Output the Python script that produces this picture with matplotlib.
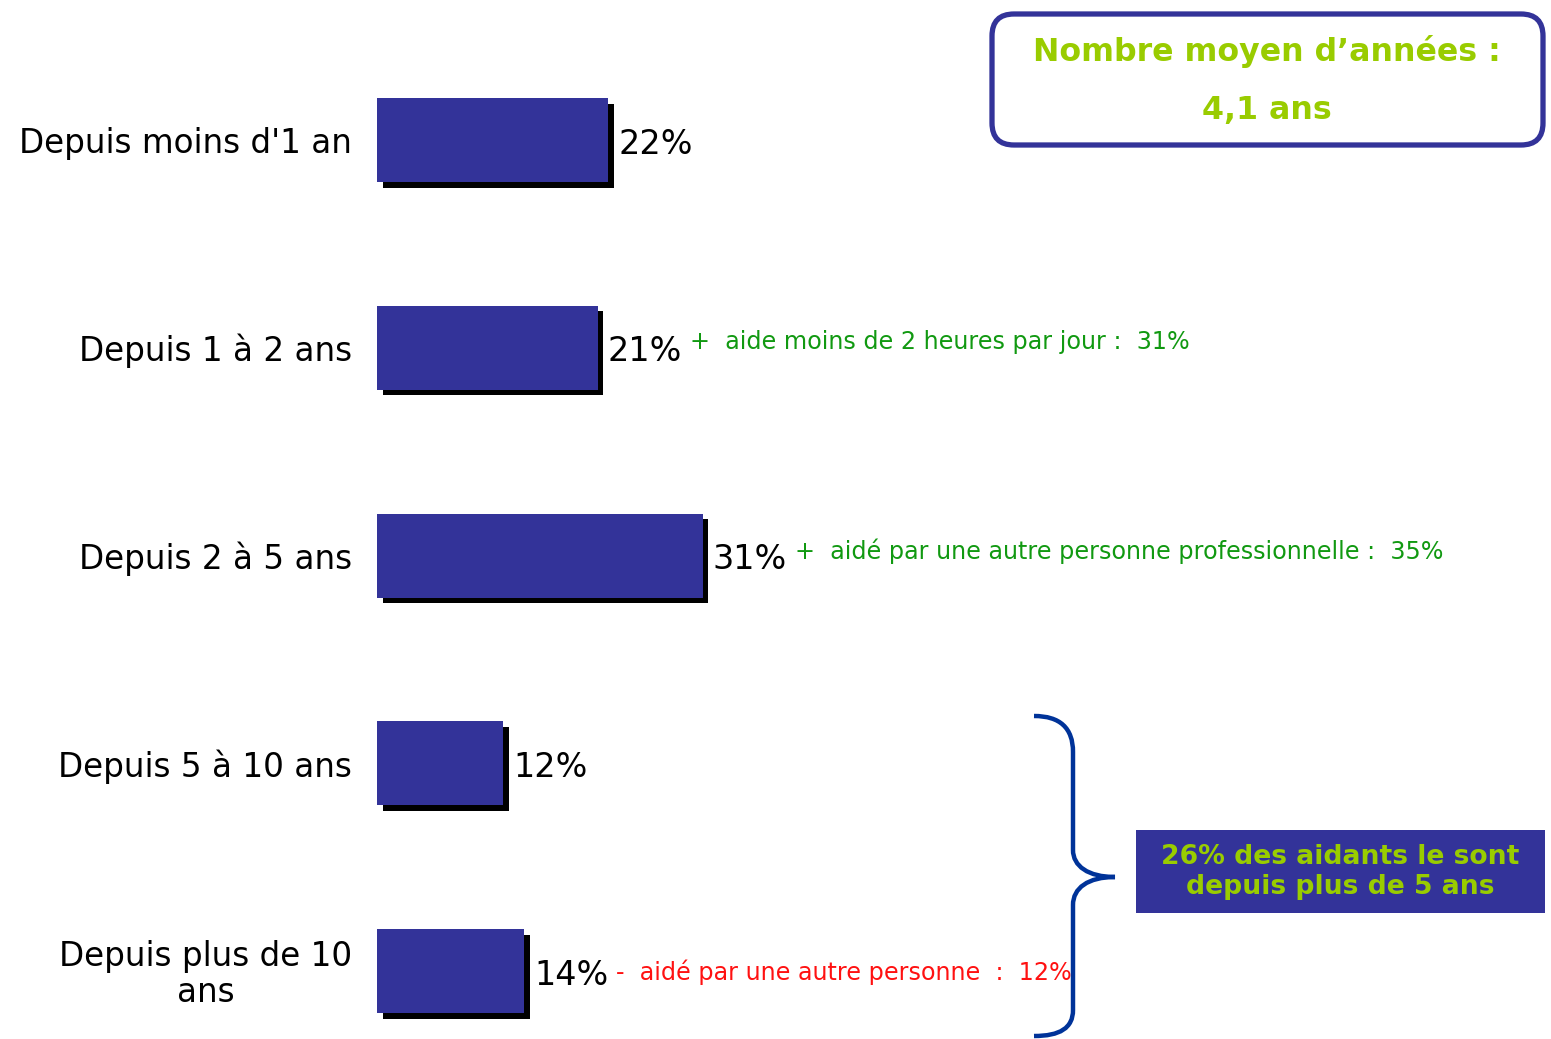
import matplotlib
matplotlib.use('Agg')
import matplotlib.pyplot as plt
from matplotlib.patches import FancyBboxPatch, Rectangle, PathPatch
from matplotlib.path import Path
import matplotlib.patheffects as pe

categories = ["Depuis moins d'1 an", "Depuis 1 à 2 ans", "Depuis 2 à 5 ans",
              "Depuis 5 à 10 ans", "Depuis plus de 10\nans"]
values = [22, 21, 31, 12, 14]
value_labels = ["22%", "21%", "31%", "12%", "14%"]
notes = ["", "+  aide moins de 2 heures par jour :  31%",
         "+  aidé par une autre personne professionnelle :  35%", "",
         "-  aidé par une autre personne  :  12%"]
note_colors = ["#119911", "#119911", "#119911", "#119911", "#FF1111"]
box_title = "Nombre moyen d’années :"
box_value = "4,1 ans"
summary = "26% des aidants le sont\ndepuis plus de 5 ans"

BAR = '#333399'
GREEN = '#99CC00'
W, H = 1551, 1039
fig = plt.figure(figsize=(W / 100, H / 100), dpi=100)
fig.patch.set_facecolor('white')

x0 = 377
px_per = 10.5
step = 207.75
yc0 = 140
ax = fig.add_axes([x0 / W, 0, (W - x0) / W, 1])
ax.set_xlim(0, (W - x0) / px_per)
ax.set_ylim((H - yc0) / step, -yc0 / step)
ax.axis('off')

ypos = list(range(len(values)))
bars = ax.barh(ypos, values, height=84 / step, color=BAR, zorder=3)
for b in bars:
    b.set_path_effects([pe.SimplePatchShadow(offset=(4, -4), shadow_rgbFace='black', alpha=1),
                        pe.Normal()])

note_dy = [0, 4, 3, -1, -1]
for i, (v, lab, cat, note, nc) in enumerate(zip(values, value_labels, categories, notes, note_colors)):
    ax.annotate(lab, xy=(v, i), xytext=(7.5, -3), textcoords='offset points',
                ha='left', va='center', fontsize=24, color='black')
    ax.annotate(cat, xy=(0, i), xytext=(-18, -2.5), textcoords='offset points',
                ha='right', va='center', fontsize=23.5, color='black',
                multialignment='center', linespacing=1.15)
    if note:
        ax.annotate(note, xy=(v, i), xytext=(66.5, note_dy[i]), textcoords='offset points',
                    ha='left', va='center', fontsize=17.2, color=nc)

# overlay in pixel coordinates for decorations
ov = fig.add_axes([0, 0, 1, 1])
ov.set_xlim(0, W)
ov.set_ylim(H, 0)
ov.axis('off')
ov.patch.set_alpha(0)

box = FancyBboxPatch((992, 14), 551, 131, boxstyle='round,pad=0,rounding_size=22',
                     facecolor='white', edgecolor=BAR, linewidth=3.8)
ov.add_patch(box)
ov.text(1267, 52, box_title, ha='center', va='center', fontsize=22.8,
        fontweight='bold', color=GREEN, family='DejaVu Sans')
ov.text(1267, 110, box_value, ha='center', va='center', fontsize=22.8,
        fontweight='bold', color=GREEN, family='DejaVu Sans')

verts = [(1034, 716), (1060, 716), (1073, 728), (1073, 752),
         (1073, 850),
         (1073, 866), (1088, 877), (1115, 877),
         (1088, 877), (1073, 888), (1073, 905),
         (1073, 1010),
         (1073, 1028), (1060, 1036), (1034, 1036)]
codes = [Path.MOVETO, Path.CURVE4, Path.CURVE4, Path.CURVE4,
         Path.LINETO,
         Path.CURVE4, Path.CURVE4, Path.CURVE4,
         Path.CURVE4, Path.CURVE4, Path.CURVE4,
         Path.LINETO,
         Path.CURVE4, Path.CURVE4, Path.CURVE4]
ov.add_patch(PathPatch(Path(verts, codes), facecolor='none', edgecolor='#003399',
                       linewidth=3.2, capstyle='butt'))

ov.add_patch(Rectangle((1136, 830), 409, 83, facecolor=BAR, edgecolor='none'))
ov.text(1340, 872, summary, ha='center', va='center', fontsize=19.2,
        fontweight='bold', color=GREEN, family='DejaVu Sans',
        linespacing=1.25)

fig.savefig('out.png', dpi=100, facecolor='white')
